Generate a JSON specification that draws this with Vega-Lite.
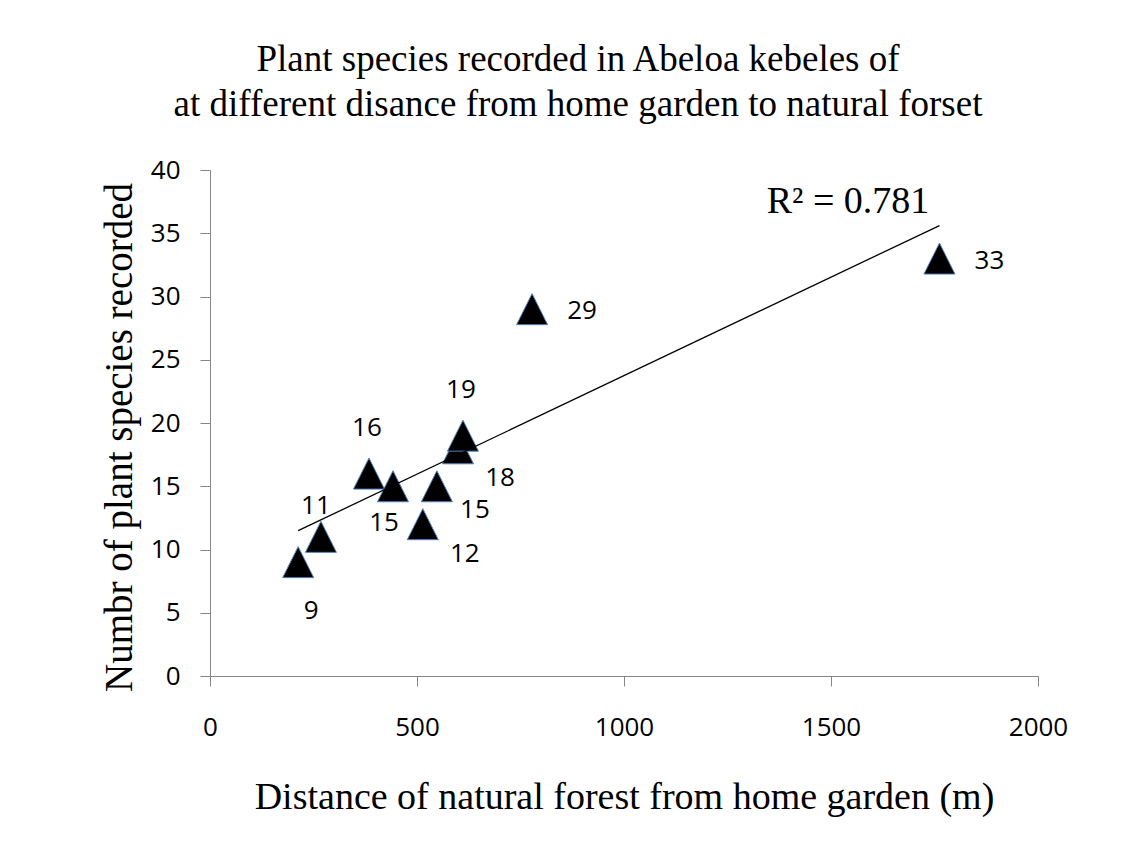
{
  "$schema": "https://vega.github.io/schema/vega-lite/v6.json",
  "width": 828,
  "height": 506,
  "autosize": {"type": "none"},
  "padding": {"left": 210, "top": 170, "right": 99, "bottom": 178},
  "background": "white",
  "config": {"view": {"stroke": null}},
  "title": {
    "text": ["Plant species recorded in Abeloa kebeles of", "at different disance from home garden to natural forset"],
    "font": "Liberation Serif",
    "fontSize": 37,
    "fontWeight": "normal",
    "color": "black",
    "lineHeight": 45,
    "anchor": "middle",
    "frame": "group",
    "dx": -46,
    "offset": 33
  },
  "datasets": {
    "pts": [
      {"distance": 213, "species": 9},
      {"distance": 268, "species": 11},
      {"distance": 384, "species": 16},
      {"distance": 442, "species": 15},
      {"distance": 514, "species": 12},
      {"distance": 548, "species": 15},
      {"distance": 599, "species": 18},
      {"distance": 611, "species": 19},
      {"distance": 778, "species": 29},
      {"distance": 1762, "species": 33}
    ],
    "note": [{"distance": 1541, "species": 37.5, "label": "R² = 0.781"}]
  },
  "data": {"name": "pts"},
  "encoding": {
    "x": {
      "field": "distance", "type": "quantitative",
      "scale": {"domain": [0, 2000], "nice": false, "zero": true},
      "axis": {
        "title": "Distance of natural forest from home garden (m)",
        "values": [0, 500, 1000, 1500, 2000],
        "format": "d",
        "grid": false,
        "domainColor": "#868686", "tickColor": "#868686", "tickSize": 10,
        "labelFont": "Open Sans", "labelFontSize": 26, "labelColor": "black", "labelPadding": 28,
        "labelFlush": false,
        "titleFont": "Liberation Serif", "titleFontSize": 38, "titleFontWeight": "normal", "titleColor": "black",
        "titlePadding": 38
      }
    },
    "y": {
      "field": "species", "type": "quantitative",
      "scale": {"domain": [0, 40], "nice": false},
      "axis": {
        "title": "Numbr of plant species recorded",
        "values": [0, 5, 10, 15, 20, 25, 30, 35, 40],
        "grid": false,
        "domainColor": "#868686", "tickColor": "#868686", "tickSize": 10,
        "labelFont": "Open Sans", "labelFontSize": 26, "labelColor": "black", "labelPadding": 20,
        "labelFlush": false,
        "titleFont": "Liberation Serif", "titleFontSize": 39, "titleFontWeight": "normal", "titleColor": "black",
        "titlePadding": 11, "titleY": 267
      }
    }
  },
  "layer": [
    {
      "mark": {"type": "point", "shape": "M0,-1L1,1L-1,1Z", "size": 961, "filled": true, "fill": "black", "stroke": "#4F81BD", "strokeWidth": 1, "opacity": 1}
    },
    {
      "transform": [{"regression": "species", "on": "distance"}],
      "mark": {"type": "line", "color": "black", "strokeWidth": 1.3}
    },
    {
      "transform": [{"filter": {"field": "distance", "oneOf": [384, 611]}}],
      "mark": {"type": "text", "font": "Open Sans", "fontSize": 26, "color": "black", "dx": -2, "dy": -46},
      "encoding": {"text": {"field": "species"}}
    },
    {
      "transform": [{"filter": {"field": "distance", "equal": 268}}],
      "mark": {"type": "text", "font": "Open Sans", "fontSize": 26, "color": "black", "dx": -5, "dy": -31},
      "encoding": {"text": {"field": "species"}}
    },
    {
      "transform": [{"filter": {"field": "distance", "equal": 213}}],
      "mark": {"type": "text", "font": "Open Sans", "fontSize": 26, "color": "black", "dx": 13, "dy": 49},
      "encoding": {"text": {"field": "species"}}
    },
    {
      "transform": [{"filter": {"field": "distance", "equal": 442}}],
      "mark": {"type": "text", "font": "Open Sans", "fontSize": 26, "color": "black", "dx": -9, "dy": 37},
      "encoding": {"text": {"field": "species"}}
    },
    {
      "transform": [{"filter": {"field": "distance", "oneOf": [514, 599]}}],
      "mark": {"type": "text", "font": "Open Sans", "fontSize": 26, "color": "black", "dx": 42, "dy": 30},
      "encoding": {"text": {"field": "species"}}
    },
    {
      "transform": [{"filter": {"field": "distance", "equal": 548}}],
      "mark": {"type": "text", "font": "Open Sans", "fontSize": 26, "color": "black", "dx": 38, "dy": 24},
      "encoding": {"text": {"field": "species"}}
    },
    {
      "transform": [{"filter": {"field": "distance", "oneOf": [778, 1762]}}],
      "mark": {"type": "text", "font": "Open Sans", "fontSize": 26, "color": "black", "dx": 50, "dy": 2},
      "encoding": {"text": {"field": "species"}}
    },
    {
      "data": {"name": "note"},
      "mark": {"type": "text", "font": "Liberation Serif", "fontSize": 38, "color": "black"},
      "encoding": {"text": {"field": "label"}}
    }
  ]
}
